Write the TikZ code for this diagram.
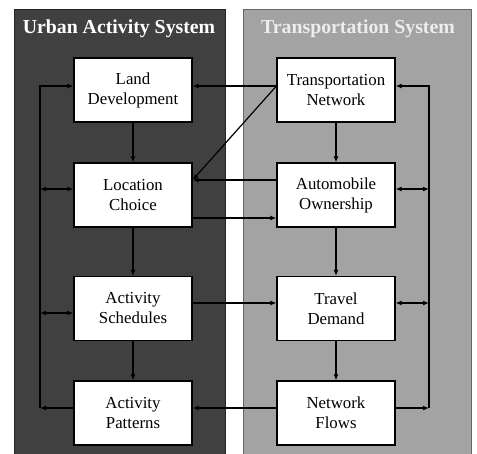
\documentclass[tikz,border=0pt]{standalone}
\usepackage{fontspec}
\setmainfont{Liberation Serif}
\usetikzlibrary{arrows.meta}
\definecolor{darkpanel}{HTML}{404040}
\definecolor{lightpanel}{HTML}{A3A3A3}
\begin{document}
\begin{tikzpicture}[x=1pt,y=-1pt,
  box/.style={draw=black, line width=1.2pt, fill=white, minimum width=118pt,
    minimum height=64pt, inner sep=0pt, align=center,
    font=\fontsize{16.8}{20}\selectfont},
  paneltitle/.style={font=\fontsize{19.8}{22}\selectfont\bfseries, anchor=base},
  tip/.tip={Latex[length=6pt,width=5pt]},
  link/.style={line width=1.2pt, -tip},
  both/.style={line width=1.2pt, tip-tip},
  wire/.style={line width=1.2pt}]
\useasboundingbox (0,0) rectangle (477,453);
\clip (0,0) rectangle (477,453);
\fill[white] (0,0) rectangle (477,453);

% the two system panels
\draw[fill=darkpanel, draw=black!85, line width=1pt] (14,9) rectangle (225,470);
\draw[fill=lightpanel, draw=black!60, line width=1pt] (243,9) rectangle (471,470);
\node[paneltitle, text=white] (uas) at (119,33) {Urban Activity System};
\node[paneltitle, text=white!93!black] (tsys) at (358,33) {Transportation System};

% urban activity column
\node[box] (LD) at (133,90)    {Land\\Development};
\node[box] (LC) at (133,195)   {Location\\Choice};
\node[box] (AS) at (133,308.5) {Activity\\Schedules};
\node[box] (AP) at (133,413)   {Activity\\Patterns};

% transportation column
\node[box] (TN) at (336,90)    {Transportation\\Network};
\node[box] (AO) at (336,195)   {Automobile\\Ownership};
\node[box] (TD) at (336,308.5) {Travel\\Demand};
\node[box] (NF) at (336,413)   {Network\\Flows};

% feedback buses
\coordinate (lTop) at (40,86);
\coordinate (lLC)  at (40,189);
\coordinate (lAS)  at (40,313);
\coordinate (lBot) at (40,408);
\coordinate (rTop) at (429,86);
\coordinate (rAO)  at (429,189);
\coordinate (rTD)  at (429,303);
\coordinate (rBot) at (429,408);

% vertical flows
\draw[link] (LD) -- (LC);
\draw[link] (LC) -- (AS);
\draw[link] (AS) -- (AP);
\draw[link] (TN) -- (AO);
\draw[link] (AO) -- (TD);
\draw[link] (TD) -- (NF);

% left feedback loop
\draw[link] ([yshift=5pt]AP.west) -- (lBot);
\draw[link] (lBot) -- (lTop) -- ([yshift=4pt]LD.west);
\draw[both] (lLC) -- ([yshift=6pt]LC.west);
\draw[both] (lAS) -- ([yshift=-4.5pt]AS.west);

% right feedback loop
\draw[link] ([yshift=5pt]NF.east) -- (rBot);
\draw[link] (rBot) -- (rTop) -- ([yshift=4pt]TN.east);
\draw[both] (rAO) -- ([yshift=6pt]AO.east);
\draw[both] (rTD) -- ([yshift=5.5pt]TD.east);

% links between the two systems
\draw[link] ([yshift=4pt]TN.west) -- ([yshift=4pt]LD.east);
\draw[link] ([yshift=4pt]TN.west) -- ([yshift=15pt]LC.east);
\draw[link] ([yshift=15pt]AO.west) -- ([yshift=15pt]LC.east);
\draw[link] ([yshift=-23pt]LC.east) -- ([yshift=-23pt]AO.west);
\draw[link] ([yshift=5.5pt]AS.east) -- ([yshift=5.5pt]TD.west);
\draw[link] ([yshift=5pt]NF.west) -- ([yshift=5pt]AP.east);
\end{tikzpicture}
\end{document}
